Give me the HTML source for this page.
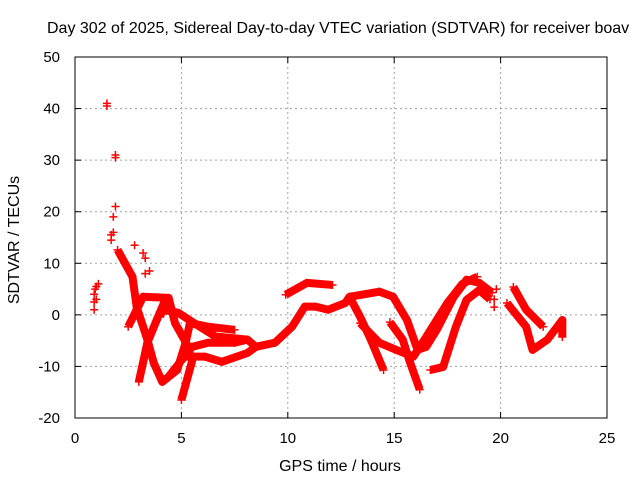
<!DOCTYPE html>
<html><head><meta charset="utf-8"><style>
body{margin:0;background:#fff}
svg{display:block;font-family:"Liberation Sans",sans-serif}
</style></head><body>
<svg id="c" width="640" height="480">
<text x="47" y="33" text-anchor="start" font-size="16">Day 302 of 2025, Sidereal Day-to-day VTEC variation (SDTVAR) for receiver boav</text>
<text x="340" y="471" text-anchor="middle" font-size="16">GPS time / hours</text>
<text transform="translate(19,240) rotate(-90)" text-anchor="middle" font-size="16">SDTVAR / TECUs</text>
<g id="grid"></g><g id="marks"></g>
<rect x="75" y="57" width="532" height="361" fill="none" stroke="#000"/>
</svg>
<script>
const xTicks=[0,5,10,15,20,25];
const yTicks=[-20,-10,0,10,20,30,40,50];
const tracks=[
[[2.0,12.6],[2.7,7.4],[2.9,1.5],[3.4,-4.8],[3.7,-9.3],[4.1,-13],[4.8,-10.7],[5.2,-5.4],[5.4,-1.6],[6.25,-2.3],[7.5,-2.9]],
[[2.5,-2.3],[3.2,3.5],[4.4,3.3],[4.7,-1.6],[5.3,-6],[5.5,-9],[5.0,-16.5]],
[[3.0,-13],[3.4,-5.4],[3.9,-0.4],[4.2,2.5]],
[[4.0,-0.4],[4.1,1],[4.85,0.4],[5.6,-1.6],[6.6,-4.2],[8.1,-4.8],[8.5,-6.2],[9.4,-5.4],[10.2,-2.3],[10.8,1.6],[11.3,1.6],[11.9,1],[12.7,2.3],[12.9,3.5],[13.4,-0.4],[13.9,-4.8],[14.5,-10.7]],
[[5.2,-8.1],[6.1,-8.1],[6.9,-9.1],[8.1,-7.4],[8.5,-6.2]],
[[4.4,-12],[5.5,-6.2],[6.25,-5.4],[7.5,-5.4],[8.1,-4.8]],
[[9.9,3.9],[10.9,6.2],[12.1,5.8]],
[[12.9,3.5],[14.3,4.5],[14.95,3.5],[15.6,-1],[16.1,-6.8],[16.5,-6.2],[17,-2.9],[17.8,3.5],[18.4,6.8],[19,6.2],[19.6,4.3]],
[[13.4,-1.6],[14.3,-5.4],[15.1,-6.8],[15.9,-8.1],[16.5,-4.3]],
[[14.8,-1.4],[15.4,-4.8],[15.7,-8.7],[16.2,-14.5]],
[[16.7,-10.7],[17.3,-10.1],[17.9,-2.3],[18.4,2.9],[19.0,4.8],[19.5,3]],
[[16.5,-4.3],[17.5,2.3],[18.2,6],[18.9,7.4]],
[[20.6,5.4],[21.2,1],[22,-2.3]],
[[20.3,2.3],[21.2,-2.3],[21.5,-6.8],[22.2,-4.8],[22.9,-1],[22.9,-4.3]]
];
const pointsX=[0.9,0.9,0.9,0.95,1.0,1.0,1.1,1.5,1.5,1.9,1.9,1.9,1.8,1.8,1.7,1.7,2.8,3.2,3.3,3.5,3.3,19.7,19.7,19.8];
const pointsY=[1,2.5,4,5,3,5.5,6,40.5,41,30.5,31,21,19,16,14.5,15.5,13.5,12,11,8.5,8,3,1.5,5];
const X=v=>75+v*532/25, Y=v=>418-(v+20)*361/70;
const NS='http://www.w3.org/2000/svg';
const grid=document.getElementById('grid'),marks=document.getElementById('marks'),svg=document.getElementById('c');
function mk(t,a,p){const e=document.createElementNS(NS,t);for(const k in a)e.setAttribute(k,a[k]);p.appendChild(e);return e;}
xTicks.forEach(v=>{
 if(v>0&&v<25){const l=mk('line',{x1:X(v),x2:X(v),y1:57,y2:418,stroke:'#a0a0a0','stroke-dasharray':'2,3'},grid);
 
 }
 const t=mk('text',{x:X(v),y:443,'text-anchor':'middle','font-size':15},svg);t.textContent=v;
 
 
 mk('line',{x1:X(v),x2:X(v),y1:418,y2:412,stroke:'#000'},grid);
 mk('line',{x1:X(v),x2:X(v),y1:57,y2:63,stroke:'#000'},grid);
});
yTicks.forEach(v=>{
 if(v>-20&&v<50){const l=mk('line',{x1:75,x2:607,y1:Y(v),y2:Y(v),stroke:'#a0a0a0','stroke-dasharray':'2,3'},grid);
 
 }
 const t=mk('text',{x:60,y:Y(v)+5,'text-anchor':'end','font-size':15},svg);t.textContent=v;
 
 
 mk('line',{x1:75,x2:81,y1:Y(v),y2:Y(v),stroke:'#000'},grid);
 mk('line',{x1:607,x2:601,y1:Y(v),y2:Y(v),stroke:'#000'},grid);
});
function plus(x,y){const e=mk('path',{d:`M${X(x)-4},${Y(y)}h8M${X(x)},${Y(y)-4}v8`,stroke:'#f00','stroke-width':1.5},marks);
 
 }
tracks.forEach(tr=>{
 const p=mk('polyline',{points:tr.map(q=>X(q[0])+','+Y(q[1])).join(' '),fill:'none',stroke:'#f00','stroke-width':8,'stroke-linejoin':'round'},marks);
 
 
 tr.forEach(q=>plus(q[0],q[1]));
});
pointsX.forEach((x,i)=>plus(x,pointsY[i]));
</script>
</body></html>
